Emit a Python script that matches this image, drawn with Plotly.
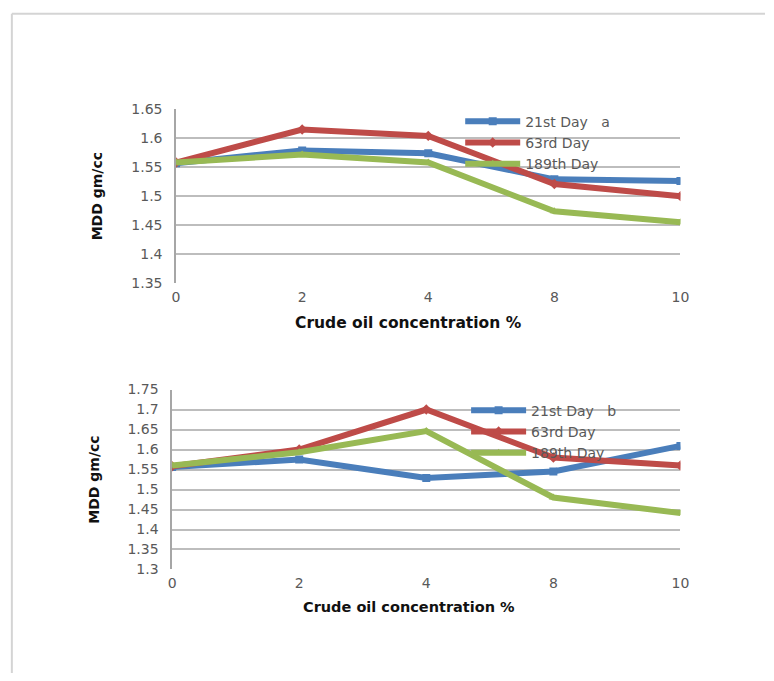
import plotly.graph_objects as go

# ---------------- data ----------------
conc = ["0", "2", "4", "8", "10"]

a_21 = [1.557, 1.579, 1.574, 1.529, 1.526]
a_63 = [1.558, 1.615, 1.604, 1.521, 1.500]
a_189 = [1.558, 1.572, 1.558, 1.474, 1.455]

b_21 = [1.556, 1.575, 1.529, 1.545, 1.609]
b_63 = [1.558, 1.600, 1.700, 1.580, 1.560]
b_189 = [1.560, 1.593, 1.646, 1.480, 1.441]

names_a = ["21st Day\u00a0\u00a0\u00a0a", "63rd Day", "189th Day"]
names_b = ["21st Day\u00a0\u00a0\u00a0b", "63rd Day", "189th Day"]

yticks_a = [1.35, 1.4, 1.45, 1.5, 1.55, 1.6, 1.65]
ytext_a = ["1.35", "1.4", "1.45", "1.5", "1.55", "1.6", "1.65"]
yticks_b = [1.3, 1.35, 1.4, 1.45, 1.5, 1.55, 1.6, 1.65, 1.7, 1.75]
ytext_b = ["1.3", "1.35", "1.4", "1.45", "1.5", "1.55", "1.6", "1.65", "1.7", "1.75"]

x_title = "Crude oil concentration %"
y_title = "MDD gm/cc"

# ---------------- style ----------------
W, H = 774, 681
colors = ["#4a7ebb", "#be4b48", "#98b954"]
symbols = ["square", "diamond", "triangle-up"]
tick_font = dict(family="DejaVu Sans", size=14, color="#595959")
grid = "#bdbdbd"

fig = go.Figure()

for vals, nm, c, s in zip([a_21, a_63, a_189], names_a, colors, symbols):
    fig.add_trace(go.Scatter(x=conc, y=vals, name=nm, mode="lines+markers",
                             line=dict(color=c, width=6),
                             marker=dict(symbol=s, size=8, color=c),
                             xaxis="x", yaxis="y", legend="legend"))
for vals, nm, c, s in zip([b_21, b_63, b_189], names_b, colors, symbols):
    fig.add_trace(go.Scatter(x=conc, y=vals, name=nm, mode="lines+markers",
                             line=dict(color=c, width=6),
                             marker=dict(symbol=s, size=8, color=c),
                             xaxis="x2", yaxis="y2", legend="legend2"))

def xax(domain, anchor):
    return dict(domain=domain, anchor=anchor, type="category", range=[0, 4],
                showgrid=False, zeroline=False, showline=False,
                tickfont=tick_font, ticks="", ticklabelstandoff=4)

def yax(domain, anchor, rng, tv, tt):
    return dict(domain=domain, anchor=anchor, range=rng, tickvals=tv, ticktext=tt,
                showgrid=True, gridcolor=grid, gridwidth=1.5, zeroline=False,
                showline=True, linecolor="#a6a6a6", linewidth=1.5,
                tickfont=tick_font, ticks="", ticklabelstandoff=9,
                title=dict(text=y_title, standoff=25,
                           font=dict(family="DejaVu Sans", size=14, color="#111111", weight="bold")))

leg_font = dict(family="DejaVu Sans", size=14, color="#595959")

fig.update_layout(
    width=W, height=H,
    margin=dict(l=0, r=0, t=0, b=0),
    paper_bgcolor="white", plot_bgcolor="white",
    xaxis=xax([175 / W, 688 / W], "y"),
    yaxis=yax([1 - 281.7 / H, 1 - 103.7 / H], "x", [1.35, 1.65], yticks_a, ytext_a),
    xaxis2=xax([171 / W, 688 / W], "y2"),
    yaxis2=yax([1 - 575 / H, 1 - 390.7 / H], "x2", [1.3, 1.75], yticks_b, ytext_b),
    legend=dict(x=464 / W, y=1 - 100 / H, xanchor="left", yanchor="top",
                bgcolor="rgba(0,0,0,0)", font=leg_font, itemwidth=55, tracegroupgap=0),
    legend2=dict(x=470 / W, y=1 - 396 / H, xanchor="left", yanchor="top",
                 bgcolor="rgba(0,0,0,0)", font=leg_font, itemwidth=55, tracegroupgap=0),
    annotations=[
        dict(text=x_title, xref="paper", yref="paper", x=411 / W, y=1 - 323 / H,
             xanchor="center", yanchor="middle", showarrow=False,
             font=dict(family="DejaVu Sans", size=15.5, color="#111111", weight="bold")),
        dict(text=x_title, xref="paper", yref="paper", x=412 / W, y=1 - 613 / H,
             xanchor="center", yanchor="middle", showarrow=False,
             font=dict(family="DejaVu Sans", size=14.5, color="#111111", weight="bold")),
    ],
    shapes=[
        dict(type="line", xref="paper", yref="paper", x0=8 / W, x1=1, y0=1 - 6 / H, y1=1 - 6 / H,
             line=dict(color="#d4d4d4", width=2)),
        dict(type="line", xref="paper", yref="paper", x0=8 / W, x1=8 / W, y0=0, y1=1 - 6 / H,
             line=dict(color="#d4d4d4", width=2)),
    ],
)

fig.write_html("out.html")
